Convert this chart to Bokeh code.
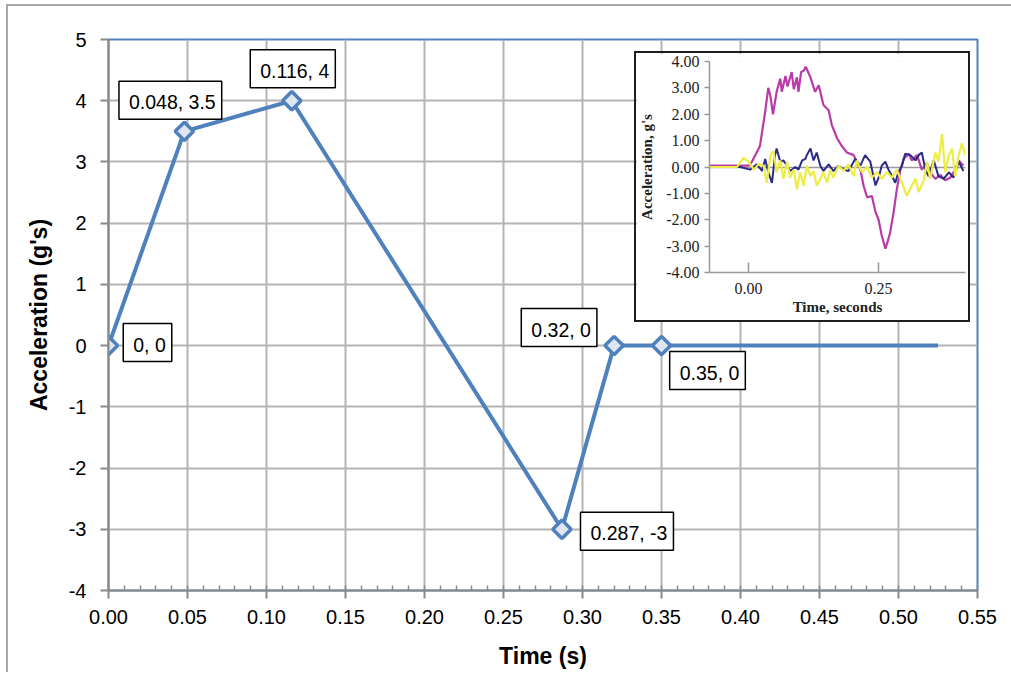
from bokeh.plotting import figure
from bokeh.layouts import column
from bokeh.models import (Range1d, FixedTicker, NumeralTickFormatter, Label,
                          ColumnDataSource)
from bokeh.embed import file_html
from bokeh.resources import INLINE

# ---------------- main chart data ----------------
time_s = [0.0, 0.048, 0.116, 0.287, 0.32, 0.35, 0.525]
accel_g = [0, 3.5, 4, -3, 0, 0, 0]
marked = [True, True, True, True, True, True, False]
x_ticks = [0.00, 0.05, 0.10, 0.15, 0.20, 0.25, 0.30, 0.35, 0.40, 0.45, 0.50, 0.55]
y_ticks = [-4, -3, -2, -1, 0, 1, 2, 3, 4, 5]
label_texts = ["0, 0", "0.048, 3.5", "0.116, 4", "0.287, -3", "0.32, 0", "0.35, 0"]

# ---------------- inset (measured traces) ----------------
mag_t = [-0.075, 0.0, 0.006, 0.022, 0.032, 0.038, 0.042, 0.047, 0.054, 0.061, 0.064, 0.071,
         0.075, 0.083, 0.087, 0.093, 0.096, 0.101, 0.106, 0.11, 0.119, 0.128, 0.135, 0.144,
         0.154, 0.16, 0.17, 0.179, 0.189, 0.202, 0.208, 0.215, 0.221, 0.228, 0.237, 0.244,
         0.25, 0.256, 0.263, 0.267, 0.272, 0.279, 0.285, 0.292, 0.298, 0.308, 0.314, 0.324,
         0.333, 0.343, 0.349, 0.359, 0.369, 0.378, 0.388, 0.397, 0.404, 0.413]
mag_a = [0.05, 0.05, 0.18, 0.8, 2.1, 3.0, 2.7, 2.0, 2.85, 3.35, 2.85, 3.45, 3.05, 3.6, 2.95,
         3.4, 2.85, 3.6, 3.65, 3.8, 3.4, 2.85, 3.1, 2.35, 2.15, 1.6, 1.1, 0.8, 0.55, 0.45, 0.2,
         -0.1, -0.7, -1.15, -1.1, -1.7, -2.0, -2.6, -3.1, -2.85, -2.5, -1.7, -0.85, -0.1, 0.3,
         0.5, 0.25, 0.45, -0.1, 0.15, -0.2, -0.45, -0.3, -0.5, -0.4, -0.1, 0.25, 0.05]
navy_t = [-0.075, -0.016, 0.003, 0.016, 0.026, 0.032, 0.038, 0.045, 0.051, 0.054, 0.061, 0.067,
          0.074, 0.08, 0.09, 0.096, 0.103, 0.109, 0.112, 0.119, 0.125, 0.131, 0.138, 0.144,
          0.154, 0.163, 0.173, 0.183, 0.192, 0.205, 0.215, 0.224, 0.234, 0.244, 0.25, 0.256,
          0.263, 0.269, 0.276, 0.282, 0.288, 0.295, 0.301, 0.311, 0.321, 0.327, 0.333, 0.34,
          0.346, 0.356, 0.365, 0.375, 0.385, 0.394, 0.404, 0.413]
navy_a = [0, 0, -0.1, 0.1, -0.15, 0.3, -0.2, -0.6, 0.45, 0.7, 0.2, 0.25, 0.05, -0.15, 0, -0.1,
          0.25, 0.3, 0.45, 0.7, 0.25, 0.55, 0.05, -0.15, 0.1, -0.15, 0.05, -0.1, -0.15, 0.3,
          0.05, 0.45, 0.2, -0.7, -0.4, 0.05, 0.2, -0.1, -0.35, -0.6, -0.2, 0.05, 0.5, 0.45,
          0.25, 0.45, 0.55, -0.1, -0.35, 0.25, -0.35, -0.45, -0.2, -0.4, 0.2, -0.15]
yel_t = [-0.075, -0.022, -0.01, 0.0, 0.01, 0.019, 0.029, 0.035, 0.042, 0.048, 0.054, 0.061,
         0.067, 0.074, 0.08, 0.087, 0.093, 0.099, 0.106, 0.112, 0.119, 0.125, 0.131, 0.138,
         0.144, 0.151, 0.157, 0.163, 0.173, 0.183, 0.192, 0.202, 0.208, 0.218, 0.228, 0.237,
         0.247, 0.256, 0.266, 0.276, 0.285, 0.295, 0.304, 0.314, 0.321, 0.327, 0.337, 0.343,
         0.349, 0.359, 0.365, 0.372, 0.378, 0.385, 0.391, 0.397, 0.404, 0.41, 0.417]
yel_a = [0, 0, 0.35, 0.2, -0.1, 0.1, 0.05, -0.6, 0.45, 0.6, -0.2, 0.25, -0.45, 0.2, -0.4, -0.1,
         -0.85, -0.2, -0.7, 0.05, -0.35, -0.15, -0.7, -0.45, -0.2, -0.6, -0.1, -0.4, 0.05,
         -0.15, 0.1, -0.35, 0.25, -0.2, 0, -0.4, -0.2, -0.45, -0.2, -0.4, -0.1, -0.6, -1.1,
         -0.7, -0.45, -0.95, -0.5, 0.2, -0.45, 0.55, 0.2, 1.25, -0.2, 0.45, 0.7, -0.35, 0.45,
         0.9, 0.45]
inset_x_ticks = [0.00, 0.25]
inset_y_ticks = [-4, -3, -2, -1, 0, 1, 2, 3, 4]

# ---------------- styles ----------------
FONT = "Liberation Sans"
SERIF = "Liberation Serif"
BLUE = "#4F81BD"
GRID = "#b4b4b4"
AXIS = "#8a8a8a"
# label offsets (px) relative to each marked point: (dx, dy up)
label_offsets = [(39, 3), (-14, 31), (1, 32), (65, -2), (-55, 18), (46, -25)]

p = figure(width=995, height=666, output_backend="svg", toolbar_location=None,
           x_range=Range1d(0, 0.55), y_range=Range1d(-4, 5),
           min_border_left=100, min_border_right=26, min_border_top=33,
           min_border_bottom=82, background_fill_color="white",
           border_fill_color="white")
p.outline_line_color = BLUE
p.outline_line_width = 2

p.xaxis.ticker = FixedTicker(ticks=x_ticks,
                             minor_ticks=[round(i * 0.01, 2) for i in range(56)])
p.xaxis.formatter = NumeralTickFormatter(format="0.00")
p.yaxis.ticker = FixedTicker(ticks=y_ticks)
p.yaxis.formatter = NumeralTickFormatter(format="0")
for ax in (p.xaxis[0], p.yaxis[0]):
    ax.axis_line_color = AXIS
    ax.axis_line_width = 2
    ax.major_tick_line_color = AXIS
    ax.major_tick_line_width = 2
    ax.major_tick_out = 8
    ax.major_tick_in = 0
    ax.major_label_text_font = FONT
    ax.major_label_text_font_size = "20px"
    ax.major_label_text_color = "black"
    ax.axis_label_text_font = FONT
    ax.axis_label_text_font_size = "23px"
    ax.axis_label_text_font_style = "bold"
    ax.axis_label_text_color = "black"
p.xaxis.minor_tick_line_color = AXIS
p.xaxis.minor_tick_line_width = 1.5
p.xaxis.minor_tick_in = 5
p.xaxis.minor_tick_out = 0
p.yaxis.minor_tick_line_color = None
p.xaxis.major_label_standoff = 11
p.xaxis.axis_label_standoff = 16
p.yaxis.major_label_standoff = 14
p.yaxis.axis_label_standoff = 14
p.xaxis.axis_label = "Time (s)"
p.yaxis.axis_label = "Acceleration (g's)"
p.grid.grid_line_color = GRID
p.grid.grid_line_width = 2

src = ColumnDataSource(dict(t=time_s, a=accel_g))
p.line("t", "a", source=src, line_color=BLUE, line_width=4)
mt = [t for t, m in zip(time_s, marked) if m]
ma = [a for a, m in zip(accel_g, marked) if m]
p.scatter(mt, ma, marker="square", angle=0.785398, size=13, line_color=BLUE,
          line_width=3.5, fill_color="#dfe6f0")

for (t, a, txt, (dx, dy)) in zip(mt, ma, label_texts, label_offsets):
    p.add_layout(Label(x=t, y=a, text=txt, x_offset=dx, y_offset=dy,
                       text_align="center", text_baseline="middle",
                       text_font=FONT, text_font_size="19.5px", text_color="black",
                       background_fill_color="white", border_line_color="black",
                       border_line_width=1.5, padding=(10, 6, 10, 6)))

main = column(p, styles={"position": "relative", "margin-left": "6px",
                         "margin-top": "4px", "padding-right": "8px",
                         "border-top": "2px solid #a8a8a8",
                         "border-left": "2px solid #a8a8a8"})

# ---------------- inset ----------------
q = figure(frame_width=256, frame_height=211, output_backend="svg", toolbar_location=None,
           x_range=Range1d(-0.075, 0.417), y_range=Range1d(-4, 4),
           min_border_left=73, min_border_right=3, min_border_top=8,
           min_border_bottom=48, background_fill_color="white",
           border_fill_color="white")
q.outline_line_color = None
q.xgrid.grid_line_color = None
q.ygrid.ticker = FixedTicker(ticks=[0])
q.ygrid.grid_line_color = "#9a9a9a"
q.ygrid.grid_line_width = 1.5
q.xaxis.ticker = FixedTicker(ticks=inset_x_ticks)
q.yaxis.ticker = FixedTicker(ticks=inset_y_ticks)
q.xaxis.formatter = NumeralTickFormatter(format="0.00")
q.yaxis.formatter = NumeralTickFormatter(format="0.00")
for ax in (q.xaxis[0], q.yaxis[0]):
    ax.axis_line_color = "#999999"
    ax.axis_line_width = 1.5
    ax.major_tick_line_color = "#999999"
    ax.major_tick_line_width = 1.5
    ax.minor_tick_line_color = None
    ax.major_label_text_font = SERIF
    ax.major_label_text_font_size = "16px"
    ax.major_label_text_color = "#222222"
    ax.axis_label_text_font = SERIF
    ax.axis_label_text_font_size = "15px"
    ax.axis_label_text_font_style = "bold"
    ax.axis_label_text_color = "#222222"
q.xaxis.major_tick_in = 10
q.xaxis.major_tick_out = 0
q.yaxis.major_tick_in = 0
q.yaxis.major_tick_out = 5
q.xaxis.major_label_standoff = 10
q.xaxis.axis_label_standoff = 2
q.yaxis.major_label_standoff = 5
q.yaxis.axis_label_standoff = 8
q.xaxis.axis_label = "Time, seconds"
q.yaxis.axis_label = "Acceleration, g's"

q.line(mag_t, mag_a, line_color="#B83BA8", line_width=2.2)
q.line(navy_t, navy_a, line_color="#2B2B86", line_width=2.0)
q.line(yel_t, yel_a, line_color="#EDED45", line_width=2.2)

q.styles = {"position": "absolute", "left": "634px", "top": "51px",
            "border": "2px solid #1e1e1e"}

open("out.html", "w").write(file_html([main, q], INLINE))
